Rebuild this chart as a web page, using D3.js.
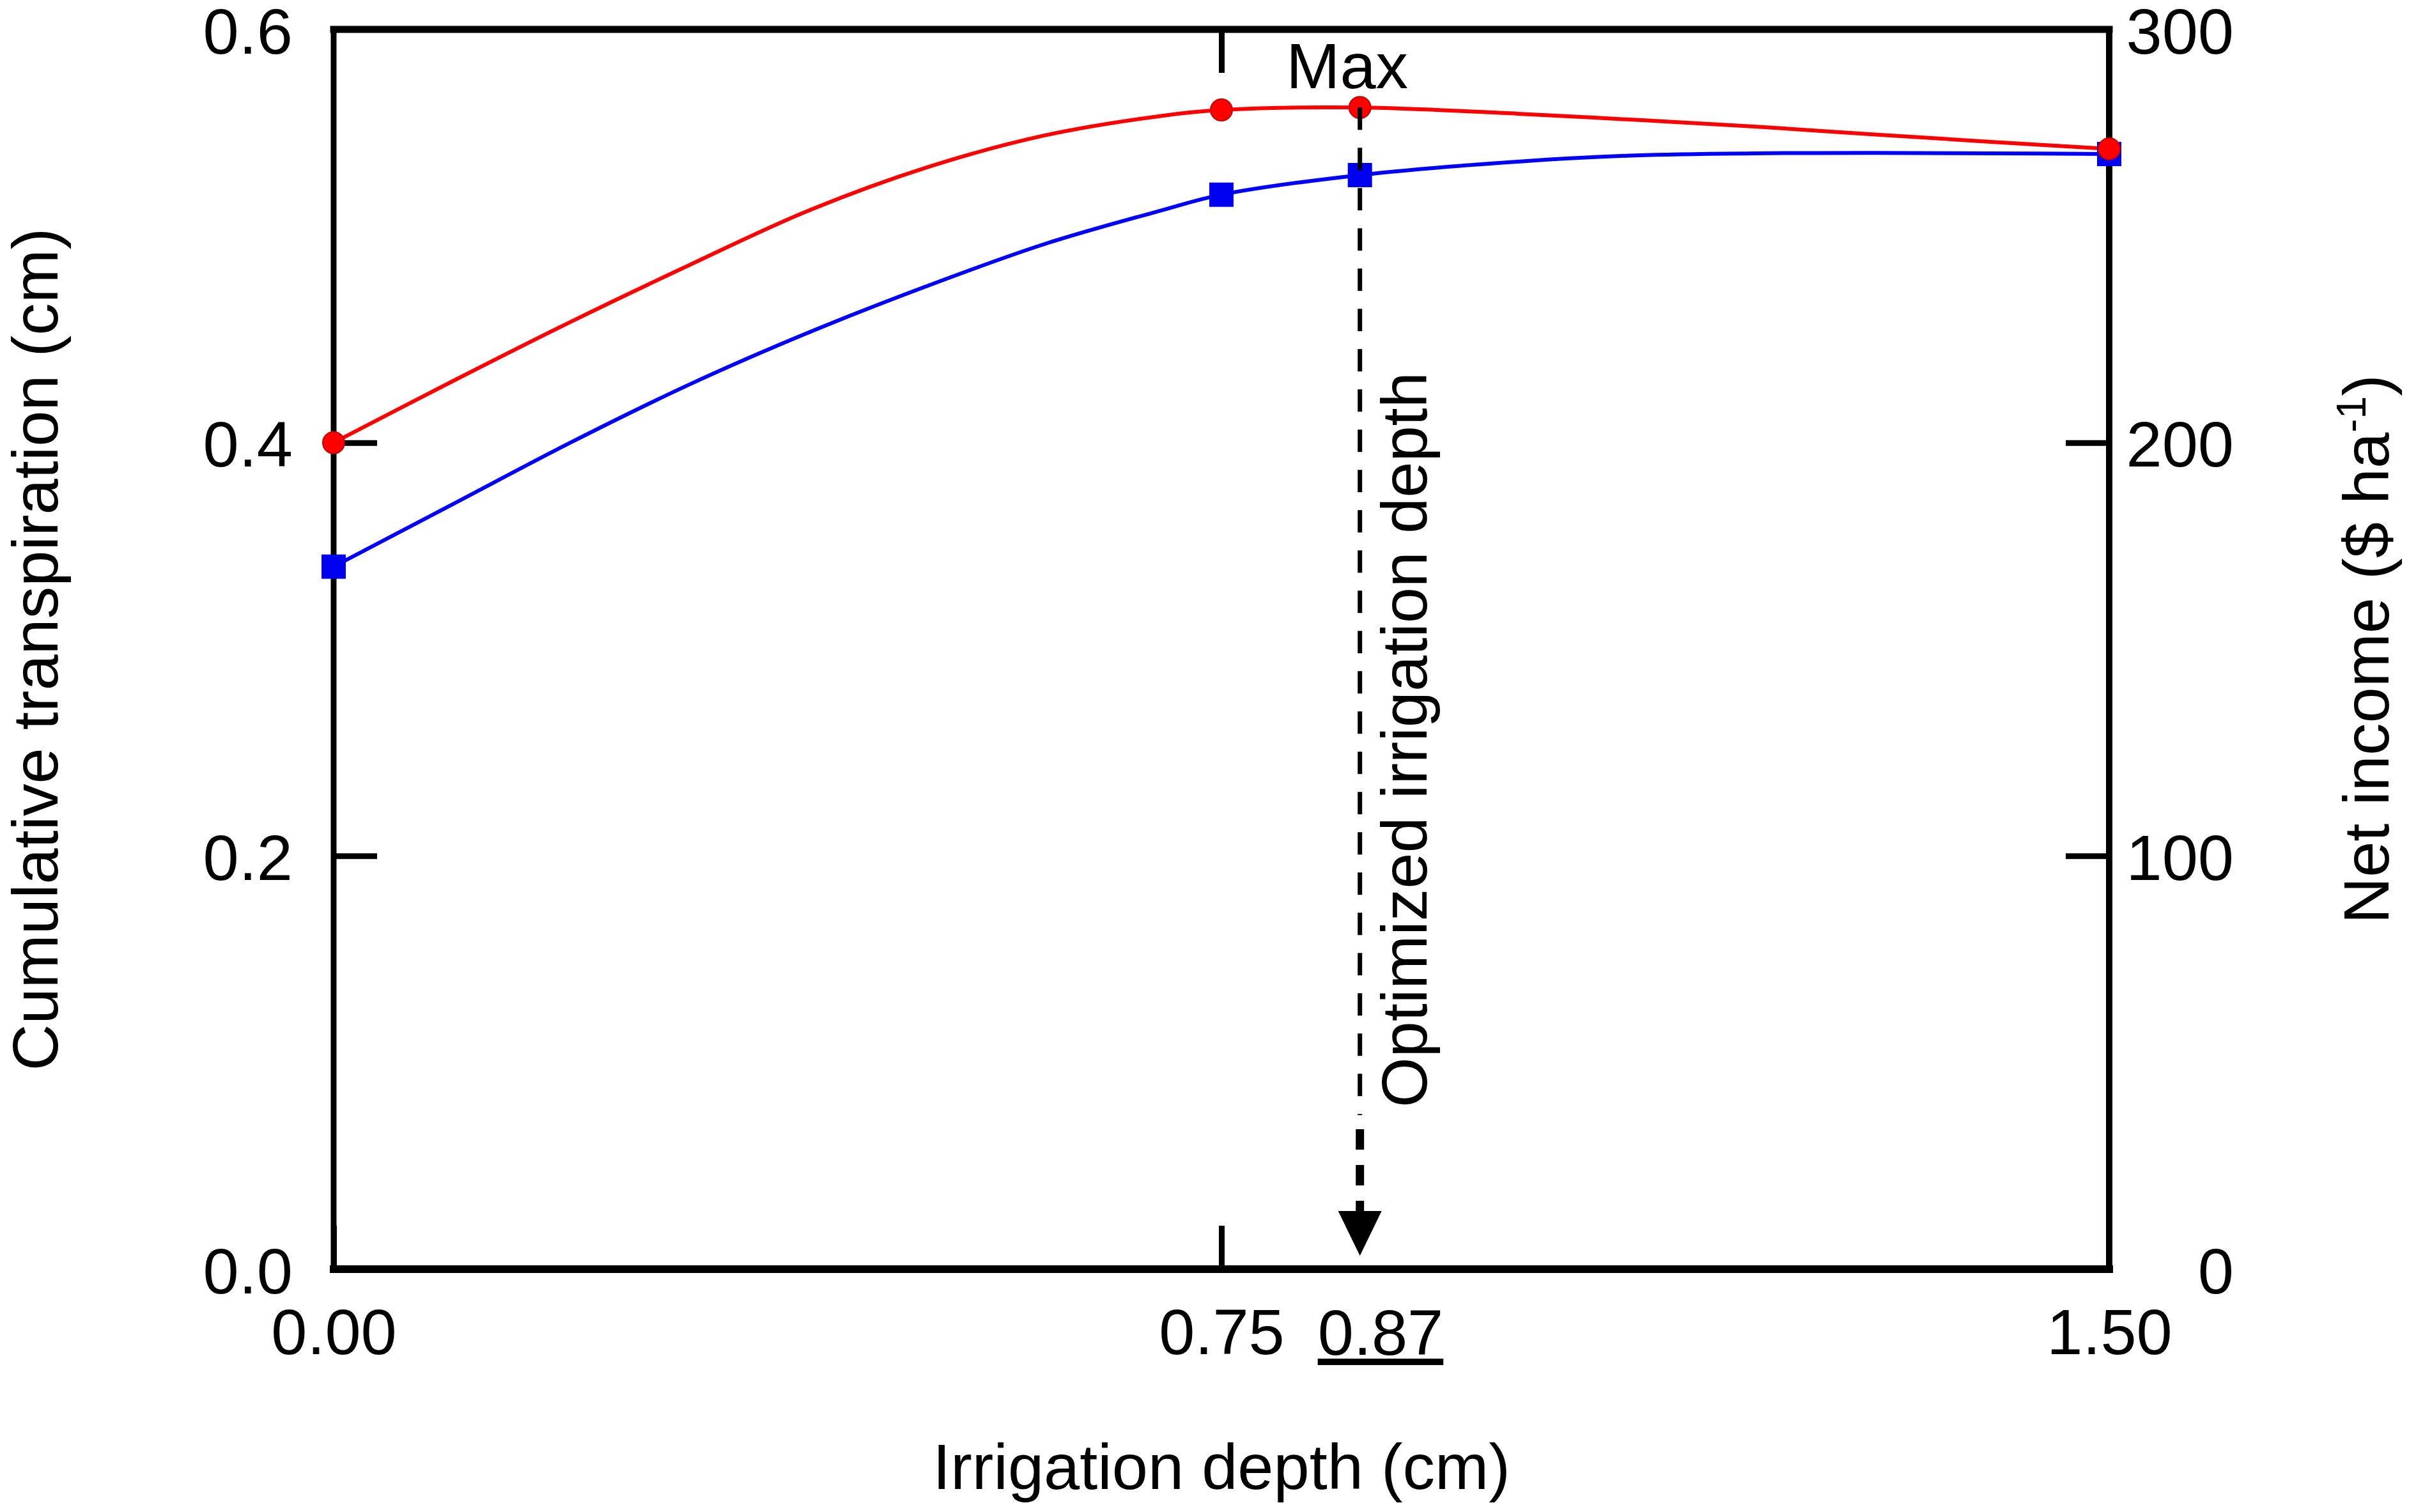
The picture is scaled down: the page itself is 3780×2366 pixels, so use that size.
<!DOCTYPE html>
<html lang="en">
<head>
<meta charset="UTF-8">
<title>Irrigation depth</title>
<style>
  body { margin: 0; background: #fff; }
  text { font-family: "Liberation Sans", Arial, sans-serif; }
</style>
</head>
<body>
<div id="chart"></div>

<script src="https://cdnjs.cloudflare.com/ajax/libs/d3/7.8.5/d3.min.js"></script>

<script>
    // data
    const curveX = [0, 0.1, 0.2, 0.3, 0.4, 0.5, 0.6, 0.7, 0.75, 0.867, 1.0, 1.1, 1.2, 1.3, 1.4, 1.5];
    // cumulative transpiration (cm), left axis
    const transpCurve = [0.340, 0.370, 0.400, 0.428, 0.453, 0.4755, 0.496, 0.5125, 0.520, 0.5295, 0.536, 0.539, 0.540, 0.5402, 0.540, 0.5397];
    // net income ($ ha-1), right axis
    const incomeCurve = [200, 214.8, 229.2, 242.9, 256, 266.5, 274.3, 279.1, 280.5, 281.1, 279.6, 278.1, 276.5, 274.6, 272.8, 271.1];

    const markerX = [0, 0.75, 0.867, 1.5];
    const transpMarkers = [0.340, 0.520, 0.5295, 0.5397];
    const incomeMarkers = [200, 280.5, 281.1, 271.1];

    const optX = 0.867;
    const optLabel = "0.87";

    const xTicks = [0, 0.75, 1.5];
    const topTicks = [0.75];
    const leftTicks = [0, 0.2, 0.4, 0.6];
    const rightTicks = [0, 100, 200, 300];

    //config
    const W = 3780, H = 2366;
    const plotL = 522, plotR = 3300, plotT = 46, plotB = 1986;
    const fontSize = 101;
    const tickLen = 68;

    const svg = d3.select("#chart").append("svg")
        .attr("width", W)
        .attr("height", H);

    const x = d3.scaleLinear().domain([0, 1.5]).range([plotL, plotR]);
    const yL = d3.scaleLinear().domain([0, 0.6]).range([plotB, plotT]);
    const yR = d3.scaleLinear().domain([0, 300]).range([plotB, plotT]);

    function styleAxis(g) {
        g.select(".domain").remove();
        g.attr("font-size", fontSize).attr("font-family", '"Liberation Sans", Arial, sans-serif');
        g.selectAll(".tick line").attr("stroke", "#000").attr("stroke-width", 9);
        g.selectAll(".tick text").attr("fill", "#000");
    }

    svg.append("g").attr("transform", `translate(${plotL},0)`)
        .call(d3.axisLeft(yL).tickValues(leftTicks).tickFormat(d3.format(".1f"))
            .tickSizeInner(-tickLen).tickSizeOuter(0).tickPadding(64))
        .call(styleAxis)
        .call(g => g.selectAll(".tick text").attr("y", 5));

    // right labels are right-aligned in the original
    svg.append("g").attr("transform", `translate(${plotR},0)`)
        .call(d3.axisRight(yR).tickValues(rightTicks).tickFormat(d3.format("d"))
            .tickSizeInner(-tickLen).tickSizeOuter(0))
        .call(styleAxis)
        .call(g => g.selectAll(".tick text").attr("x", 195).attr("y", 5).attr("text-anchor", "end"));

    svg.append("g").attr("transform", `translate(0,${plotB})`)
        .call(d3.axisBottom(x).tickValues(xTicks).tickFormat(d3.format(".2f"))
            .tickSizeInner(-tickLen).tickSizeOuter(0).tickPadding(61))
        .call(styleAxis);

    svg.append("g").attr("transform", `translate(0,${plotT})`)
        .call(d3.axisTop(x).tickValues(topTicks).tickFormat("")
            .tickSizeInner(-tickLen).tickSizeOuter(0))
        .call(styleAxis);

    // frame: thicker top/bottom, thinner sides
    const frame = svg.append("g").attr("stroke", "#000").attr("stroke-linecap", "square");
    frame.append("line").attr("x1", plotL).attr("x2", plotR).attr("y1", plotT).attr("y2", plotT).attr("stroke-width", 11);
    frame.append("line").attr("x1", plotL).attr("x2", plotR).attr("y1", plotB).attr("y2", plotB).attr("stroke-width", 12);
    frame.append("line").attr("x1", plotL).attr("x2", plotL).attr("y1", plotT).attr("y2", plotB).attr("stroke-width", 9);
    frame.append("line").attr("x1", plotR).attr("x2", plotR).attr("y1", plotT).attr("y2", plotB).attr("stroke-width", 10);

    // curves
    const transpLine = d3.line().x((d, i) => x(curveX[i])).y(d => yL(d)).curve(d3.curveCatmullRom.alpha(0.5));
    const incomeLine = d3.line().x((d, i) => x(curveX[i])).y(d => yR(d)).curve(d3.curveCatmullRom.alpha(0.5));

    svg.append("path").datum(transpCurve)
        .attr("d", transpLine)
        .attr("fill", "none")
        .attr("stroke", "#0000ff")
        .attr("stroke-width", 6);

    svg.append("path").datum(incomeCurve)
        .attr("d", incomeLine)
        .attr("fill", "none")
        .attr("stroke", "#ff0000")
        .attr("stroke-width", 6);

    // markers
    const sq = 38;
    svg.append("g").selectAll("rect").data(transpMarkers).join("rect")
        .attr("x", (d, i) => x(markerX[i]) - sq / 2)
        .attr("y", d => yL(d) - sq / 2)
        .attr("width", sq).attr("height", sq)
        .attr("fill", "#0000f0");

    svg.append("g").selectAll("circle").data(incomeMarkers).join("circle")
        .attr("cx", (d, i) => x(markerX[i]))
        .attr("cy", d => yR(d))
        .attr("r", 17)
        .attr("fill", "#ff0000")
        .attr("stroke", "#c00000")
        .attr("stroke-width", 2);

    // optimum dashed arrow
    const xo = x(optX);
    const yMax = yR(incomeMarkers[2]);
    svg.append("line")
        .attr("x1", xo).attr("x2", xo)
        .attr("y1", yMax).attr("y2", plotB - 241)
        .attr("stroke", "#000").attr("stroke-width", 7)
        .attr("stroke-dasharray", "35,28");
    svg.append("line")
        .attr("x1", xo).attr("x2", xo)
        .attr("y1", plotB - 219).attr("y2", plotB - 89)
        .attr("stroke", "#000").attr("stroke-width", 13)
        .attr("stroke-dasharray", "32,24");
    svg.append("path")
        .attr("d", `M${xo - 34},${plotB - 91}L${xo + 34},${plotB - 91}L${xo},${plotB - 21}Z`)
        .attr("fill", "#000");

    svg.append("text")
        .attr("x", xo - 20).attr("y", yMax - 30)
        .attr("text-anchor", "middle")
        .attr("font-size", fontSize)
        .text("Max");

    svg.append("text")
        .attr("transform", `translate(${xo + 104},${plotB - 253}) rotate(-90)`)
        .attr("text-anchor", "start")
        .attr("font-size", fontSize)
        .text("Optimized irrigation depth");

    svg.append("text")
        .attr("x", xo - 66).attr("y", plotB + 134)
        .attr("font-size", fontSize)
        .attr("text-decoration", "underline")
        .text(optLabel);

    // axis titles
    svg.append("text")
        .attr("x", (plotL + plotR) / 2).attr("y", 2330)
        .attr("text-anchor", "middle")
        .attr("font-size", fontSize)
        .text("Irrigation depth (cm)");

    svg.append("text")
        .attr("transform", `translate(90,${(plotT + plotB) / 2}) rotate(-90)`)
        .attr("text-anchor", "middle")
        .attr("font-size", fontSize)
        .text("Cumulative transpiration (cm)");

    const rt = svg.append("text")
        .attr("transform", `translate(3737,${(plotT + plotB) / 2}) rotate(-90)`)
        .attr("text-anchor", "middle")
        .attr("font-size", fontSize);
    rt.append("tspan").text("Net income ($ ha");
    rt.append("tspan").attr("font-size", 64).attr("baseline-shift", "super").text("-1");
    rt.append("tspan").text(")");
</script>
</body>
</html>
